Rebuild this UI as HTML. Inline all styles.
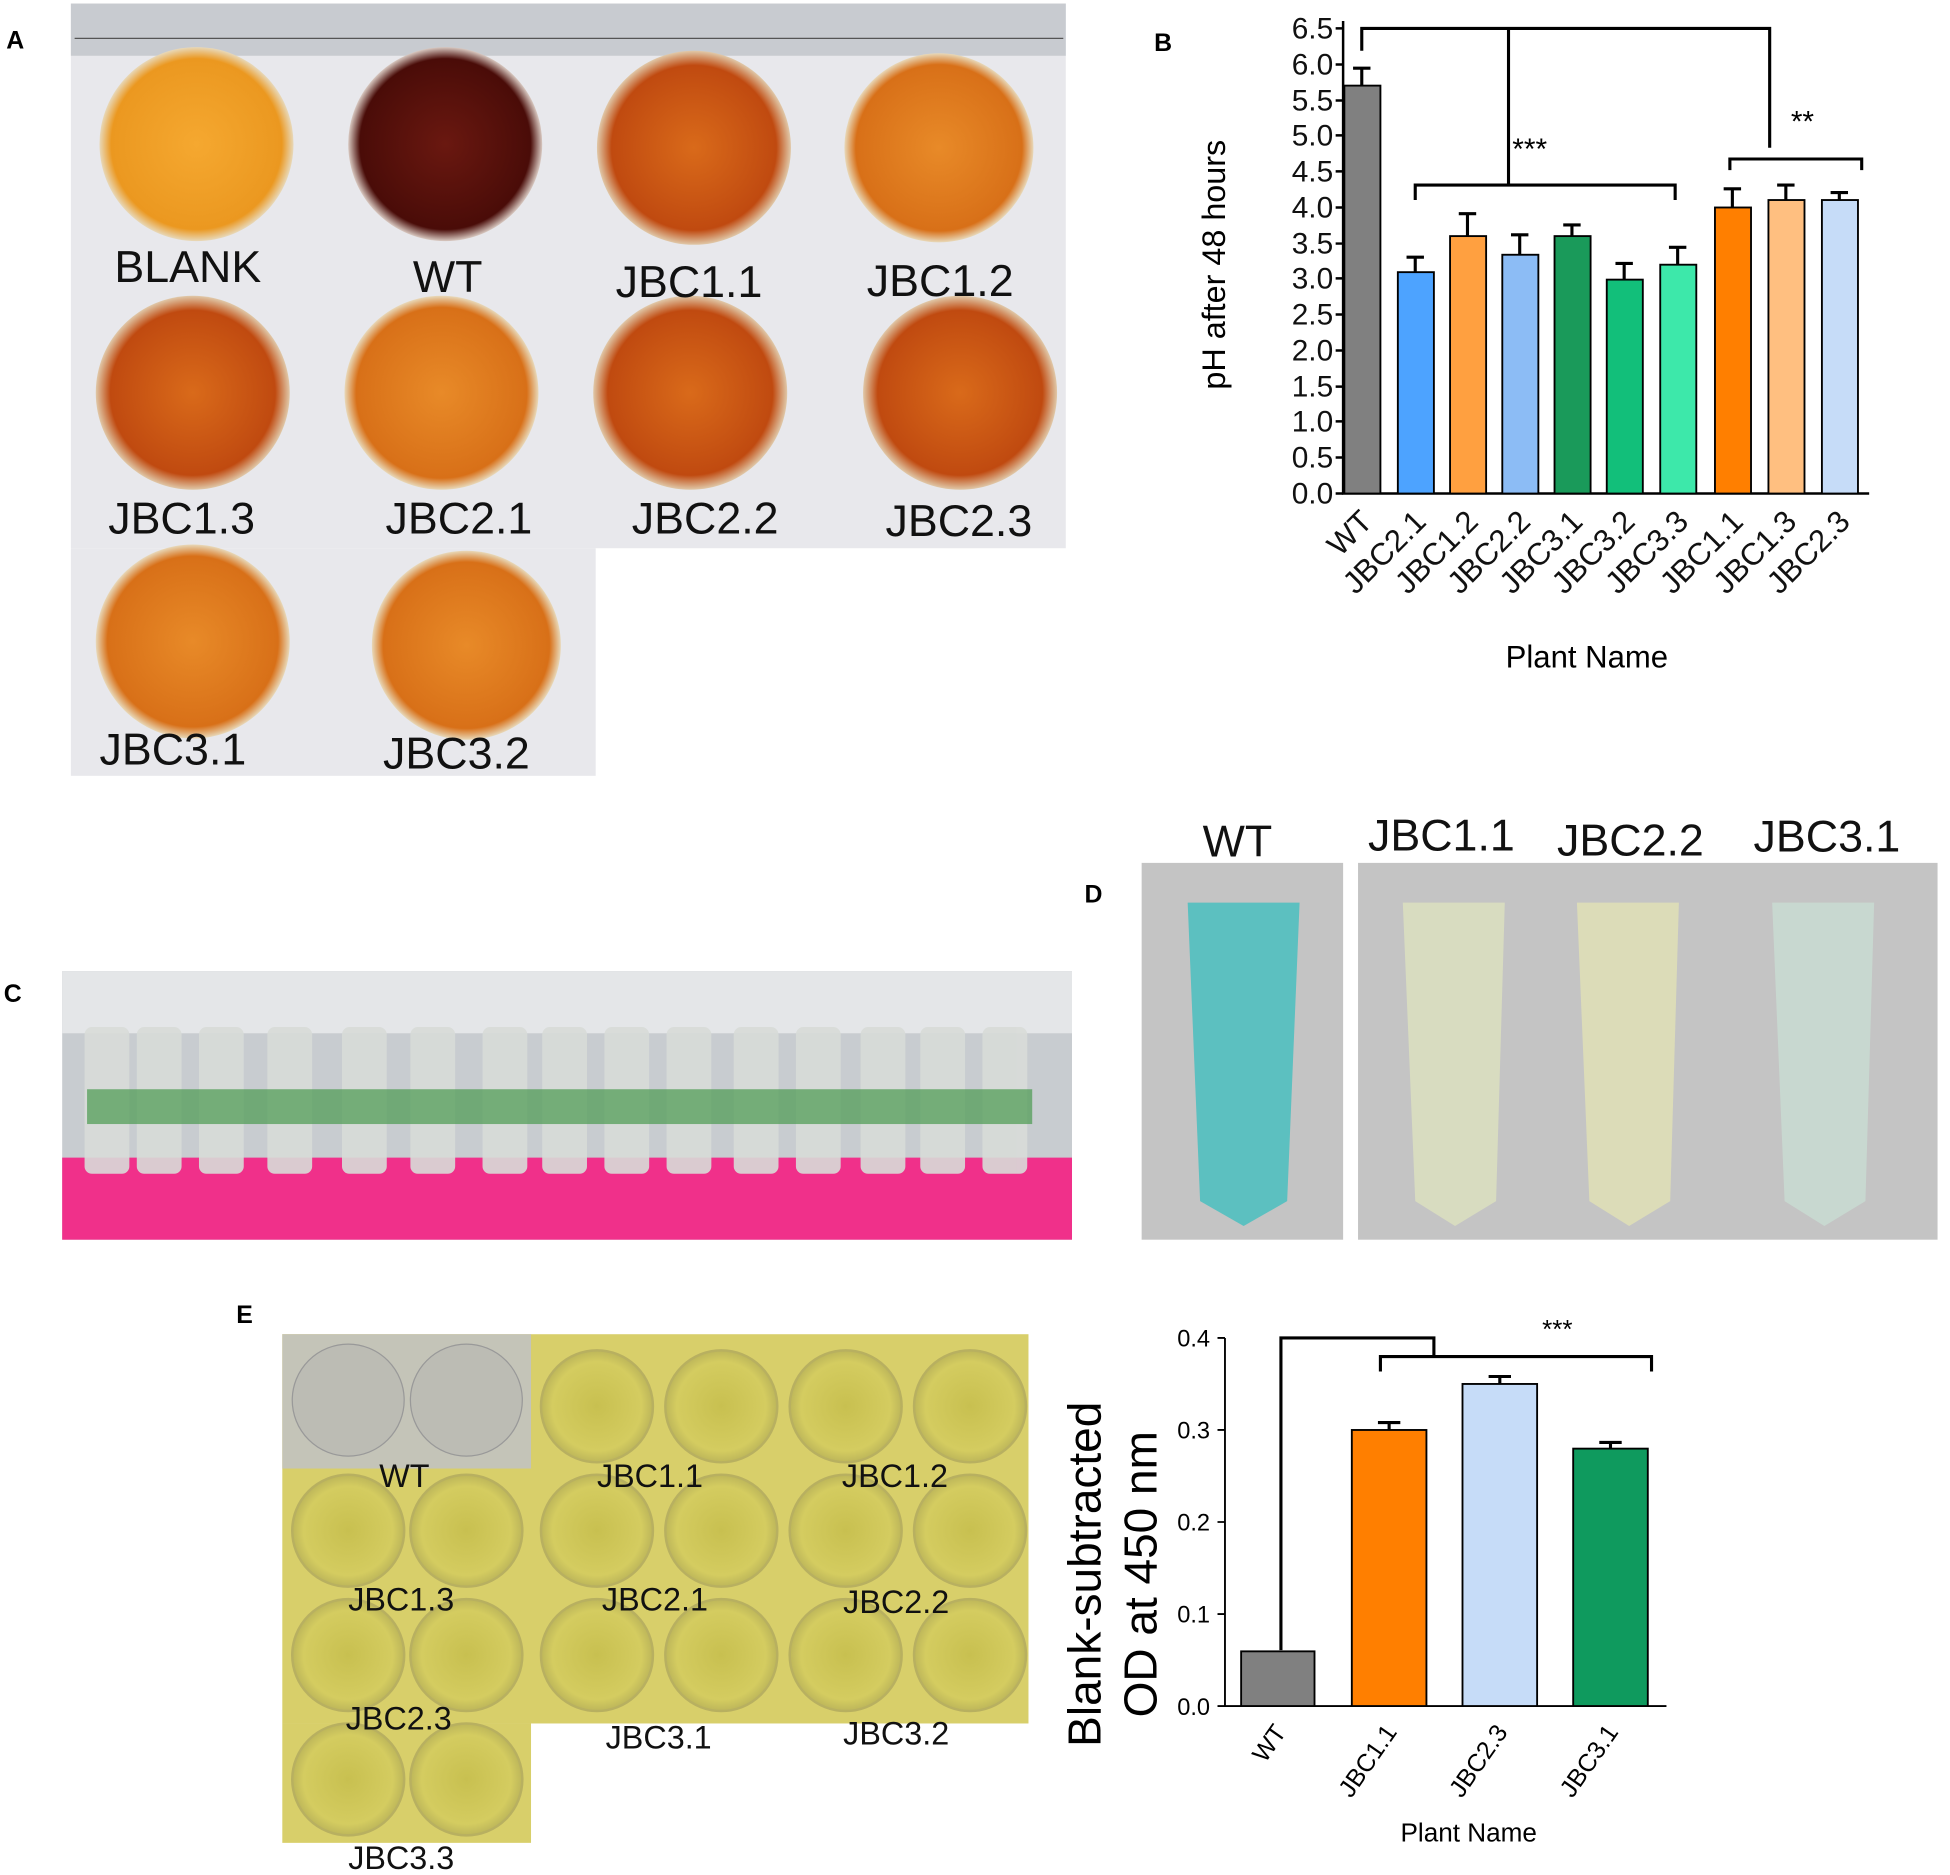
<!DOCTYPE html>
<html><head><meta charset="utf-8"><style>html,body{margin:0;padding:0;background:#fff}svg{display:block}text{font-family:"Liberation Sans",sans-serif}</style></head><body>
<svg width="1950" height="1875" viewBox="0 0 1568 1506" xmlns="http://www.w3.org/2000/svg">
<rect width="1568" height="1506" fill="#fff"/>
<defs>
<radialGradient id="dish" cx="50%" cy="50%" r="50%"><stop offset="0" stop-color="#d96a1a"/><stop offset="0.85" stop-color="#c04a10"/><stop offset="1" stop-color="#e0c8a8"/></radialGradient>
<radialGradient id="blank" cx="50%" cy="50%" r="50%"><stop offset="0" stop-color="#f5a830"/><stop offset="0.88" stop-color="#eb9820"/><stop offset="1" stop-color="#e8d8b8"/></radialGradient>
<radialGradient id="wt" cx="50%" cy="50%" r="50%"><stop offset="0" stop-color="#6a1810"/><stop offset="0.88" stop-color="#4a0c08"/><stop offset="1" stop-color="#d8c8c0"/></radialGradient>
<radialGradient id="lt" cx="50%" cy="50%" r="50%"><stop offset="0" stop-color="#e88a28"/><stop offset="0.88" stop-color="#d87018"/><stop offset="1" stop-color="#e8d8b8"/></radialGradient>
<radialGradient id="well" cx="50%" cy="50%" r="50%"><stop offset="0" stop-color="#c8c050"/><stop offset="0.8" stop-color="#d4cc60"/><stop offset="1" stop-color="#bdb65a"/></radialGradient>
</defs>
<text x="5" y="38" font-size="20" font-weight="bold">A</text>
<text x="928" y="40" font-size="20" font-weight="bold">B</text>
<text x="3" y="805" font-size="20" font-weight="bold">C</text>
<text x="872" y="725" font-size="20" font-weight="bold">D</text>
<text x="190" y="1063" font-size="20" font-weight="bold">E</text>
<rect x="57" y="2" width="800" height="438" fill="#e8e8ec"/>
<rect x="57" y="440" width="422" height="183" fill="#e8e8ec"/>
<rect x="57" y="2" width="800" height="42" fill="#c8cbd0"/>
<g stroke="#555" stroke-width="1"><path d="M60 30H855"/></g>
<circle cx="158" cy="115" r="78" fill="url(#blank)"/>
<circle cx="358" cy="115" r="78" fill="url(#wt)"/>
<circle cx="558" cy="118" r="78" fill="url(#dish)"/>
<circle cx="755" cy="118" r="76" fill="url(#lt)"/>
<circle cx="155" cy="315" r="78" fill="url(#dish)"/>
<circle cx="355" cy="315" r="78" fill="url(#lt)"/>
<circle cx="555" cy="315" r="78" fill="url(#dish)"/>
<circle cx="772" cy="315" r="78" fill="url(#dish)"/>
<circle cx="155" cy="515" r="78" fill="url(#lt)"/>
<circle cx="375" cy="518" r="76" fill="url(#lt)"/>
<g font-size="36" fill="#111">
<text x="92" y="226">BLANK</text><text x="332" y="234">WT</text><text x="495" y="238">JBC1.1</text><text x="697" y="237">JBC1.2</text>
<text x="87" y="428">JBC1.3</text><text x="310" y="428">JBC2.1</text><text x="508" y="428">JBC2.2</text><text x="712" y="430">JBC2.3</text>
<text x="80" y="614">JBC3.1</text><text x="308" y="617">JBC3.2</text>
</g>
<g stroke="#000" stroke-width="2" fill="none"><path d="M1080 16V396H1503"/></g>
<g font-size="24" text-anchor="end" fill="#111">
<text x="1072" y="404">0.0</text><text x="1072" y="375">0.5</text><text x="1072" y="346">1.0</text><text x="1072" y="318">1.5</text><text x="1072" y="289">2.0</text><text x="1072" y="260">2.5</text><text x="1072" y="231">3.0</text><text x="1072" y="203">3.5</text><text x="1072" y="174">4.0</text><text x="1072" y="145">4.5</text><text x="1072" y="116">5.0</text><text x="1072" y="88">5.5</text><text x="1072" y="59">6.0</text><text x="1072" y="30">6.5</text>
</g>
<g stroke="#000" stroke-width="2">
<path d="M1074 396h6M1074 367h6M1074 338h6M1074 310h6M1074 281h6M1074 252h6M1074 223h6M1074 195h6M1074 166h6M1074 137h6M1074 108h6M1074 80h6M1074 51h6M1074 22h6"/>
</g>
<text transform="translate(985 212) rotate(-90)" font-size="26" text-anchor="middle">pH after 48 hours</text>
<g stroke="#000" stroke-width="1.5">
<rect x="1081" y="68" width="29" height="328" fill="#808080"/>
<rect x="1124" y="218" width="29" height="178" fill="#4da3ff"/>
<rect x="1166" y="189" width="29" height="207" fill="#ffa040"/>
<rect x="1208" y="204" width="29" height="192" fill="#8cbcf5"/>
<rect x="1250" y="189" width="29" height="207" fill="#1a9a5a"/>
<rect x="1292" y="224" width="29" height="172" fill="#12bf7a"/>
<rect x="1335" y="212" width="29" height="184" fill="#3de8aa"/>
<rect x="1379" y="166" width="29" height="230" fill="#ff7f00"/>
<rect x="1422" y="160" width="29" height="236" fill="#ffbf80"/>
<rect x="1465" y="160" width="29" height="236" fill="#c6dcf8"/>
</g>
<g stroke="#000" stroke-width="2.5" fill="none">
<path d="M1095 68V54M1088 54h14M1138 218V206M1131 206h14M1180 189V171M1173 171h14M1222 204V188M1215 188h14M1264 189V180M1257 180h14M1306 224V211M1299 211h14M1349 212V198M1342 198h14M1393 166V151M1386 151h14M1436 160V148M1429 148h14M1479 160V154M1472 154h14"/>
<path d="M1095 40V22H1423V118M1213 22V148M1138 160V148H1347V160M1391 136V127H1497V136"/>
</g>
<text x="1216" y="127" font-size="24">***</text>
<text x="1440" y="105" font-size="24">**</text>
<g font-size="25" fill="#111" text-anchor="end">
<text transform="translate(1105 420) rotate(-45)">WT</text>
<text transform="translate(1148 420) rotate(-45)">JBC2.1</text>
<text transform="translate(1190 420) rotate(-45)">JBC1.2</text>
<text transform="translate(1232 420) rotate(-45)">JBC2.2</text>
<text transform="translate(1274 420) rotate(-45)">JBC3.1</text>
<text transform="translate(1316 420) rotate(-45)">JBC3.2</text>
<text transform="translate(1359 420) rotate(-45)">JBC3.3</text>
<text transform="translate(1403 420) rotate(-45)">JBC1.1</text>
<text transform="translate(1446 420) rotate(-45)">JBC1.3</text>
<text transform="translate(1489 420) rotate(-45)">JBC2.3</text>
</g>
<text x="1276" y="536" font-size="25" text-anchor="middle">Plant Name</text>
<rect x="50" y="780" width="812" height="216" fill="#c8ccd0"/>
<rect x="50" y="780" width="812" height="50" fill="#e4e6e8"/>
<rect x="50" y="930" width="812" height="66" fill="#f0308a"/>
<g fill="#d8dcd8" opacity="0.9">
<rect x="68" y="825" width="36" height="118" rx="6"/><rect x="110" y="825" width="36" height="118" rx="6"/><rect x="160" y="825" width="36" height="118" rx="6"/><rect x="215" y="825" width="36" height="118" rx="6"/><rect x="275" y="825" width="36" height="118" rx="6"/><rect x="330" y="825" width="36" height="118" rx="6"/><rect x="388" y="825" width="36" height="118" rx="6"/><rect x="436" y="825" width="36" height="118" rx="6"/><rect x="486" y="825" width="36" height="118" rx="6"/><rect x="536" y="825" width="36" height="118" rx="6"/><rect x="590" y="825" width="36" height="118" rx="6"/><rect x="640" y="825" width="36" height="118" rx="6"/><rect x="692" y="825" width="36" height="118" rx="6"/><rect x="740" y="825" width="36" height="118" rx="6"/><rect x="790" y="825" width="36" height="118" rx="6"/>
</g>
<rect x="70" y="875" width="760" height="28" fill="#4a9a50" opacity="0.7"/>
<rect x="918" y="693" width="162" height="303" fill="#c4c4c4"/>
<rect x="1092" y="693" width="466" height="303" fill="#c4c4c4"/>
<path d="M955 725H1045L1035 965L1000 985L965 965Z" fill="#5cc0c0"/>
<path d="M1128 725H1210L1203 965L1170 985L1138 965Z" fill="#d8dcc0"/>
<path d="M1268 725H1350L1343 965L1310 985L1278 965Z" fill="#dcdcb8"/>
<path d="M1425 725H1507L1500 965L1467 985L1435 965Z" fill="#c8d8d0"/>
<g font-size="36" fill="#111">
<text x="967" y="688">WT</text><text x="1100" y="683">JBC1.1</text><text x="1252" y="687">JBC2.2</text><text x="1410" y="684">JBC3.1</text>
</g>
<rect x="227" y="1072" width="600" height="313" fill="#d8cf6a"/>
<rect x="227" y="1385" width="200" height="96" fill="#d8cf6a"/>
<rect x="227" y="1072" width="200" height="108" fill="#c4c4b8"/>
<g fill="url(#well)" stroke="#b8b060" stroke-width="2">
<circle cx="580" cy="1130" r="45"/><circle cx="480" cy="1130" r="45"/><circle cx="680" cy="1130" r="45"/><circle cx="780" cy="1130" r="45"/>
<circle cx="280" cy="1230" r="45"/><circle cx="375" cy="1230" r="45"/><circle cx="480" cy="1230" r="45"/><circle cx="580" cy="1230" r="45"/><circle cx="680" cy="1230" r="45"/><circle cx="780" cy="1230" r="45"/>
<circle cx="280" cy="1330" r="45"/><circle cx="375" cy="1330" r="45"/><circle cx="480" cy="1330" r="45"/><circle cx="580" cy="1330" r="45"/><circle cx="680" cy="1330" r="45"/><circle cx="780" cy="1330" r="45"/>
<circle cx="280" cy="1430" r="45"/><circle cx="375" cy="1430" r="45"/>
</g>
<g fill="#bcbcb4" stroke="#999"><circle cx="280" cy="1125" r="45"/><circle cx="375" cy="1125" r="45"/></g>
<g font-size="26" fill="#111">
<text x="305" y="1195">WT</text><text x="480" y="1195">JBC1.1</text><text x="677" y="1195">JBC1.2</text>
<text x="280" y="1294">JBC1.3</text><text x="484" y="1294">JBC2.1</text><text x="678" y="1296">JBC2.2</text>
<text x="278" y="1390">JBC2.3</text><text x="487" y="1405">JBC3.1</text><text x="678" y="1402">JBC3.2</text>
<text x="280" y="1502">JBC3.3</text>
</g>
<g stroke="#000" stroke-width="1.5" fill="none"><path d="M985 1075V1371H1340M979 1371h6M979 1297h6M979 1223h6M979 1149h6M979 1075h6"/></g>
<g font-size="19" text-anchor="end"><text x="973" y="1378">0.0</text><text x="973" y="1304">0.1</text><text x="973" y="1230">0.2</text><text x="973" y="1156">0.3</text><text x="973" y="1082">0.4</text></g>
<text transform="translate(885 1265) rotate(-90)" font-size="37" text-anchor="middle">Blank-subtracted</text>
<text transform="translate(930 1265) rotate(-90)" font-size="37" text-anchor="middle">OD at 450 nm</text>
<g stroke="#000" stroke-width="1.5">
<rect x="998" y="1327" width="59" height="44" fill="#808080"/>
<rect x="1087" y="1149" width="60" height="222" fill="#ff7f00"/>
<rect x="1176" y="1112" width="60" height="259" fill="#c6dcf8"/>
<rect x="1265" y="1164" width="60" height="207" fill="#0f9a5e"/>
</g>
<g stroke="#000" stroke-width="2.5" fill="none">
<path d="M1117 1149V1143M1108 1143h18M1206 1112V1106M1197 1106h18M1295 1164V1159M1286 1159h18"/>
<path d="M1030 1326V1075H1153V1090M1110 1102V1090H1328V1102"/>
</g>
<text x="1240" y="1075" font-size="21">***</text>
<g font-size="20" text-anchor="end">
<text transform="translate(1035 1392) rotate(-55)">WT</text>
<text transform="translate(1124 1392) rotate(-55)">JBC1.1</text>
<text transform="translate(1213 1392) rotate(-55)">JBC2.3</text>
<text transform="translate(1302 1392) rotate(-55)">JBC3.1</text>
</g>
<text x="1181" y="1480" font-size="21" text-anchor="middle">Plant Name</text>
</svg>
</body></html>
